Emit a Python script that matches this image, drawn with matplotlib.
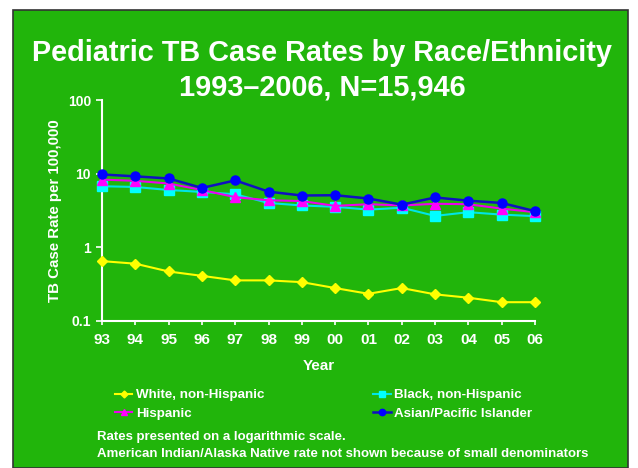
import matplotlib
matplotlib.use("Agg")
import matplotlib.pyplot as plt

plt.rcParams['font.family'] = ['Liberation Sans', 'DejaVu Sans']
plt.rcParams['font.weight'] = 'bold'

GREEN = '#21b50b'

years = ['93', '94', '95', '96', '97', '98', '99', '00', '01', '02', '03', '04', '05', '06']
white = [0.65, 0.60, 0.47, 0.41, 0.356, 0.356, 0.337, 0.28, 0.234, 0.28, 0.23, 0.207, 0.18, 0.18]
black = [6.75, 6.6, 6.0, 5.65, 5.25, 4.0, 3.7, 3.55, 3.25, 3.45, 2.67, 3.0, 2.78, 2.65]
hispanic = [8.3, 8.0, 7.35, 6.0, 4.8, 4.35, 4.25, 3.65, 3.85, 3.7, 3.9, 3.85, 3.35, 3.0]
asian = [9.75, 9.2, 8.6, 6.4, 8.1, 5.7, 5.05, 5.1, 4.6, 3.8, 4.75, 4.3, 4.0, 3.1]

ytick_vals = [0.1, 1, 10, 100]
ytick_labels = ['0.1', '1', '10', '100']

fig = plt.figure(figsize=(6.38, 4.68), dpi=100)
fig.patch.set_facecolor('white')

# green slide panel with dark border
panel = plt.Rectangle((13 / 638, 0), 615 / 638, 1 - 10 / 468, transform=fig.transFigure,
                      facecolor=GREEN, edgecolor='#333333', linewidth=1.2, zorder=-10)
fig.patches.append(panel)

ax = fig.add_axes([102 / 638, 1 - 321 / 468, 433 / 638, 221 / 468])
ax.set_facecolor('none')
ax.set_zorder(5)

x = list(range(len(years)))
ax.plot(x, white, color='#ffff00', marker='D', markersize=5, linewidth=1.5,
        label='White, non-Hispanic', zorder=3, clip_on=False)
ax.plot(x, black, color='#00e5e5', marker='s', markersize=6.5, markerfacecolor='#00ffff',
        markeredgecolor='#00ffff', linewidth=1.5, label='Black, non-Hispanic', zorder=3, clip_on=False)
ax.plot(x, hispanic, color='#ee00ee', marker='^', markersize=6.5, markerfacecolor='#ff00ff',
        markeredgecolor='#ff00ff', linewidth=1.5, label='Hispanic', zorder=4, clip_on=False)
ax.plot(x, asian, color='#1010c0', marker='o', markersize=6.5, markerfacecolor='#0000ff',
        markeredgecolor='#0000ff', linewidth=1.8, label='Asian/Pacific Islander', zorder=5, clip_on=False)

ax.set_yscale('log')
ax.set_ylim(0.1, 100)
ax.set_xlim(0, len(years) - 1)
ax.set_yticks(ytick_vals)
ax.set_yticklabels(ytick_labels)
ax.minorticks_off()
ax.set_xticks(x)
ax.set_xticklabels(years)

for side in ['top', 'right']:
    ax.spines[side].set_visible(False)
for side in ['left', 'bottom']:
    ax.spines[side].set_color('white')
    ax.spines[side].set_linewidth(1.5)
ax.tick_params(axis='y', colors='white', labelsize=10, length=4, width=1.2, pad=4)
ax.tick_params(axis='x', colors='white', labelsize=11, length=3, width=1.2, pad=6)
for lab in ax.get_xticklabels() + ax.get_yticklabels():
    lab.set_fontweight('bold')

ax.set_ylabel('TB Case Rate per 100,000', color='white', fontsize=10.8, fontweight='bold', labelpad=4)
ax.set_xlabel('Year', color='white', fontsize=11, fontweight='bold', labelpad=8)

fig.text(0.505, 1 - 53 / 468, 'Pediatric TB Case Rates by Race/Ethnicity', color='white',
         fontsize=20.8, fontweight='bold', ha='center', va='center')
fig.text(0.505, 1 - 88 / 468, '1993\u20132006, N=15,946', color='white',
         fontsize=20.8, fontweight='bold', ha='center', va='center')

handles, labels = ax.get_legend_handles_labels()
order = [0, 2, 1, 3]
leg = fig.legend([handles[i] for i in order], [labels[i] for i in order],
                 loc='upper left', bbox_to_anchor=(103 / 638, 1 - 377 / 468), ncol=2,
                 frameon=False, fontsize=9.6, labelcolor='white', handlelength=1.3,
                 handletextpad=0.25, columnspacing=8.2, labelspacing=0.45, markerscale=0.7)
for t in leg.get_texts():
    t.set_fontweight('bold')

fig.text(97 / 638, 1 - 437 / 468, 'Rates presented on a logarithmic scale.', color='white',
         fontsize=9.5, fontweight='bold', ha='left', va='center')
fig.text(97 / 638, 1 - 454 / 468, 'American Indian/Alaska Native rate not shown because of small denominators',
         color='white', fontsize=9.5, fontweight='bold', ha='left', va='center')

fig.savefig('out.png', dpi=100, facecolor=fig.get_facecolor())
